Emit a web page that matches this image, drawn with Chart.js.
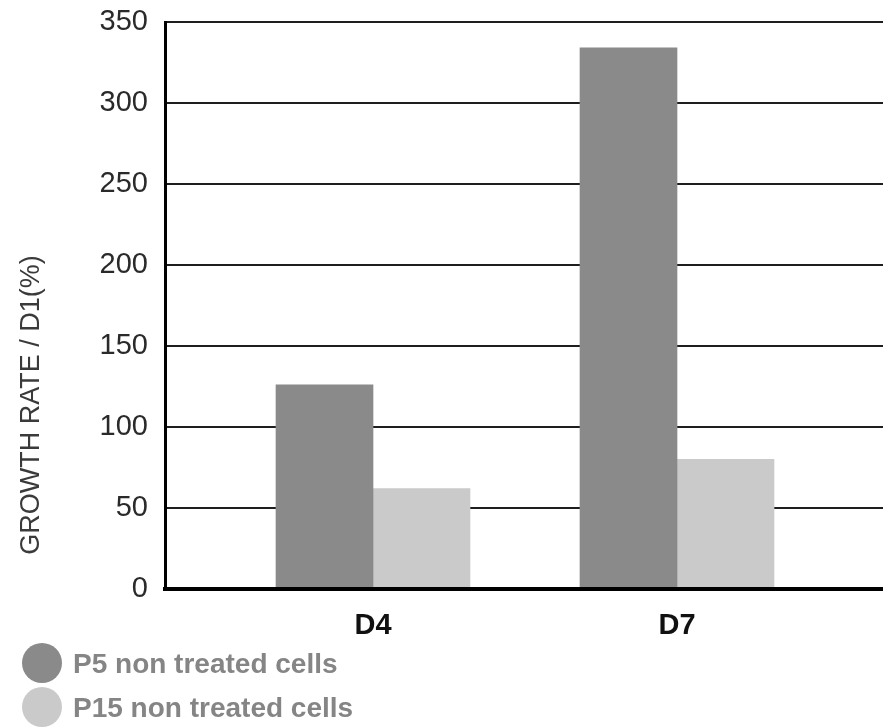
<!DOCTYPE html>
<html>
<head>
<meta charset="utf-8">
<script src="https://cdn.jsdelivr.net/npm/chart.js@4.4.0/dist/chart.umd.min.js"></script>
<style>
  body { margin: 0; background: #fff; }
  #wrap { position: relative; width: 883px; height: 727px; overflow: hidden; }
  #legend { position: absolute; left: 0; top: 641px; }
  .item { display: flex; align-items: center; height: 44px; }
  .dot { width: 40px; height: 40px; border-radius: 50%; margin-left: 22px; }
  .txt { margin-left: 11px; padding-top: 2px; font: bold 28px "Liberation Sans", sans-serif; color: #858585; white-space: nowrap; }
</style>
</head>
<body>
<div id="wrap">
  <canvas id="barChart" width="883" height="727"></canvas>
  <div id="legend"></div>
</div>
<script>
// data
const categories = ['D4', 'D7'];
const categoryPositions = [1, 2];
const seriesNames = ['P5 non treated cells', 'P15 non treated cells'];
const p5Values = [126, 334];
const p15Values = [62, 80];
const seriesColors = ['#8a8a8a', '#cacaca'];
const yTickMin = 0;
const yTickMax = 350;
const yTickStep = 50;
const yTitle = 'GROWTH RATE / D1(%)';

const barCtx = document.getElementById('barChart').getContext('2d');
const legendContainer = document.getElementById('legend');

// 縦軸タイトル（チャート外の左側に回転して描画）
const yTitlePlugin = {
    id: 'yTitle',
    afterDraw(chart) {
        const { ctx } = chart;
        ctx.save();
        ctx.translate(32, 405);
        ctx.rotate(-Math.PI / 2);
        ctx.font = '27px "Liberation Sans", sans-serif';
        ctx.fillStyle = '#3a3a3a';
        ctx.textAlign = 'center';
        ctx.textBaseline = 'middle';
        ctx.fillText(yTitle, 0, 0);
        ctx.restore();
    }
};

function toPoints(values) {
    return values.map((v, i) => ({ x: categoryPositions[i], y: v }));
}

function renderLegend() {
    legendContainer.innerHTML = seriesNames.map((name, i) => `
        <div class="item"><span class="dot" style="background:${seriesColors[i]}"></span><span class="txt">${name}</span></div>
    `).join('');
}

new Chart(barCtx, {
    type: 'bar',
    data: {
        datasets: [
            { label: seriesNames[0], data: toPoints(p5Values), backgroundColor: seriesColors[0], barThickness: 97 },
            { label: seriesNames[1], data: toPoints(p15Values), backgroundColor: seriesColors[1], barThickness: 97 }
        ]
    },
    options: {
        responsive: false,
        animation: false,
        layout: { padding: { top: 22, right: 0, bottom: 0, left: 0 } },
        plugins: { legend: { display: false }, tooltip: { enabled: false } },
        scales: {
            x: {
                type: 'linear',
                offset: false,
                min: 1 - 208 / 304,
                max: 2 + 206 / 304,
                afterFit(scale) { scale.height = 138; scale.paddingLeft = 0; scale.paddingRight = 0; },
                grid: { display: false },
                border: { display: true, color: '#000', width: 4, z: 1 },
                ticks: {
                    stepSize: 1,
                    includeBounds: false,
                    padding: 12,
                    color: '#111',
                    font: { family: '"Liberation Sans", sans-serif', size: 29, weight: 'bold' },
                    callback: (value) => categories[categoryPositions.indexOf(value)] || ''
                }
            },
            y: {
                min: yTickMin,
                max: yTickMax,
                afterFit(scale) { scale.width = 165; scale.paddingTop = 0; scale.paddingBottom = 0; },
                grid: { color: '#1e1e1e', lineWidth: 2, drawTicks: false },
                border: { display: true, color: '#000', width: 3 },
                ticks: {
                    stepSize: yTickStep,
                    padding: 17,
                    color: '#2a2a2a',
                    font: { family: '"Liberation Sans", sans-serif', size: 29 }
                }
            }
        }
    },
    plugins: [yTitlePlugin]
});

renderLegend();
</script>
</body>
</html>
